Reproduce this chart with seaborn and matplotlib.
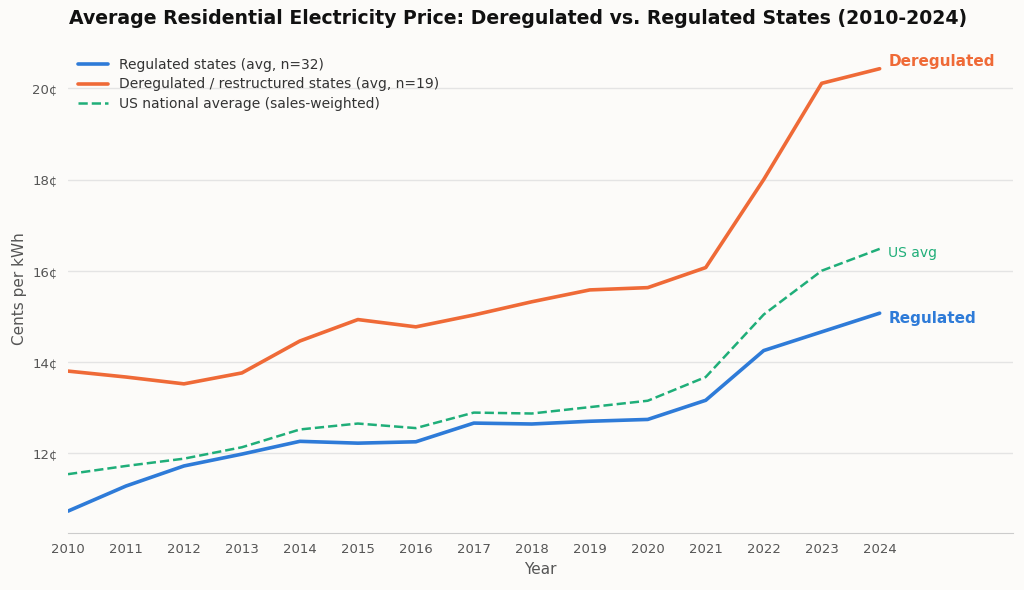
import numpy as np
import pandas as pd
import matplotlib
matplotlib.use('Agg')
import matplotlib.pyplot as plt
import seaborn as sns

years = list(range(2010, 2025))
regulated = [10.73, 11.28, 11.72, 11.98, 12.26, 12.22, 12.25, 12.66, 12.64, 12.70, 12.74, 13.16, 14.25, 14.66, 15.07]
deregulated = [13.80, 13.67, 13.52, 13.76, 14.46, 14.93, 14.77, 15.03, 15.32, 15.58, 15.63, 16.07, 18.00, 20.11, 20.43]
us_avg = [11.54, 11.72, 11.88, 12.13, 12.52, 12.65, 12.55, 12.89, 12.87, 13.01, 13.15, 13.67, 15.04, 16.00, 16.48]

c_reg = '#2e7bd8'
c_der = '#ef6a37'
c_us = '#1fae79'
bg = '#fcfbf9'

df = pd.DataFrame({'Year': years, 'reg': regulated, 'der': deregulated, 'us': us_avg})

sns.set_style('white')
plt.rcParams['font.family'] = ['DejaVu Sans']

fig = plt.figure(figsize=(10.24, 5.9), dpi=100, facecolor=bg)
ax = fig.add_axes([68/1024, 57/590, (1013-68)/1024, (533-45)/590])
ax.set_facecolor(bg)

sns.lineplot(data=df, x='Year', y='reg', color=c_reg, lw=2.6, label='Regulated states (avg, n=32)', ax=ax)
sns.lineplot(data=df, x='Year', y='der', color=c_der, lw=2.6, label='Deregulated / restructured states (avg, n=19)', ax=ax)
sns.lineplot(data=df, x='Year', y='us', color=c_us, lw=1.8, ls='--', label='US national average (sales-weighted)', ax=ax)

ax.set_xlim(2010, 2026.3)
ax.set_ylim(10.25, 20.95)
ax.set_xticks(years)
ax.set_yticks([12, 14, 16, 18, 20])
ax.set_yticklabels([f'{v}¢' for v in [12, 14, 16, 18, 20]])
ax.tick_params(axis='both', colors='#555555', labelsize=9.5, length=4, width=0.8)
ax.tick_params(axis='y', color='#777777')
ax.grid(axis='y', color='#e4e4e4', lw=1)
for s in ['top', 'right', 'left']:
    ax.spines[s].set_visible(False)
ax.spines['bottom'].set_color('#cccccc')

ax.set_xlabel('Year', fontsize=11, color='#555555')
ax.set_ylabel('Cents per kWh', fontsize=11, color='#555555')
fig.suptitle('Average Residential Electricity Price: Deregulated vs. Regulated States (2010-2024)',
             fontsize=13.55, fontweight='bold', color='#111111', x=0.506, y=0.985)

ax.text(2024.15, deregulated[-1] + 0.15, 'Deregulated', color=c_der, fontsize=11, fontweight='bold', va='center')
ax.text(2024.15, regulated[-1] - 0.12, 'Regulated', color=c_reg, fontsize=11, fontweight='bold', va='center')
ax.text(2024.15, us_avg[-1] - 0.1, 'US avg', color=c_us, fontsize=10, va='center')

leg = ax.legend(loc='upper left', frameon=False, fontsize=10, handlelength=2.2, borderaxespad=0.3,
                labelspacing=0.38, bbox_to_anchor=(0.0, 0.993))
for t in leg.get_texts():
    t.set_color('#333333')

fig.savefig('out.png', dpi=100, facecolor=bg)
